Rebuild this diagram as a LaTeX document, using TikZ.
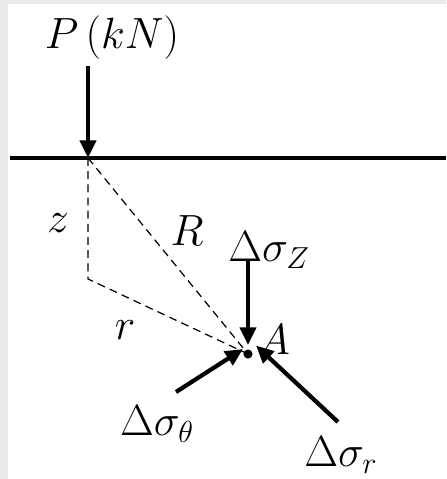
\documentclass[tikz,border=0pt]{standalone}
\usepackage{amsmath}
\usetikzlibrary{arrows.meta}

\tikzset{
  load/.style={line width=2.4pt, -{Triangle[length=10pt,width=9pt]}},
  guide/.style={line width=0.7pt, dash pattern=on 4.5pt off 3pt},
  lbl/.style={inner sep=0pt, font=\fontsize{23}{27}\selectfont}
}

\begin{document}
\begin{tikzpicture}[x=0.02cm, y=-0.02cm]

% background and frame
\fill[white] (0,0) rectangle (446,479);
\useasboundingbox (0,0) rectangle (446,479);
\fill[black!8] (0,0) rectangle (8,479);
\fill[black!8] (8,0) rectangle (446,4);

% key points
\coordinate (O) at (88,158);
\coordinate (C) at (88,279);
\coordinate (A) at (248,354);

% ground surface
\coordinate (G1) at (10,158);
\coordinate (G2) at (446,158);
\draw[line width=2.5pt] (G1) -- (G2);

% point load
\node[lbl] (load) at (112,38) {$P\,(kN)$};
\coordinate (Ptail) at (88,66);
\draw[load] (Ptail) -- (O);

% geometry
\draw[guide] (O) -- (C) -- (A);
\draw[guide] (O) -- (A);
\node[lbl] (zlab) at (58,223) {$z$};
\node[lbl] (Rlab) at (187,231) {$R$};
\node[lbl] (rlab) at (125,330) {$r$};

% point A
\fill (A) circle (2.6pt);
\node[lbl] (Alab) at (274,340) {$A$};

% stress increments
\node[lbl] (sz) at (269,250) {$\Delta\sigma_Z$};
\coordinate (sztail) at (248,260);
\draw[load] (sztail) -- ([yshift=0.18cm]A);

\node[lbl] (st) at (157,424) {$\Delta\sigma_\theta$};
\coordinate (sttail) at (176,392);
\draw[load] (sttail) -- ([shift={(-0.1cm,0.1cm)}]A);

\node[lbl] (sr) at (341,455) {$\Delta\sigma_r$};
\coordinate (srtail) at (338,422);
\draw[load] (srtail) -- ([shift={(0.16cm,0.17cm)}]A);

\end{tikzpicture}
\end{document}
